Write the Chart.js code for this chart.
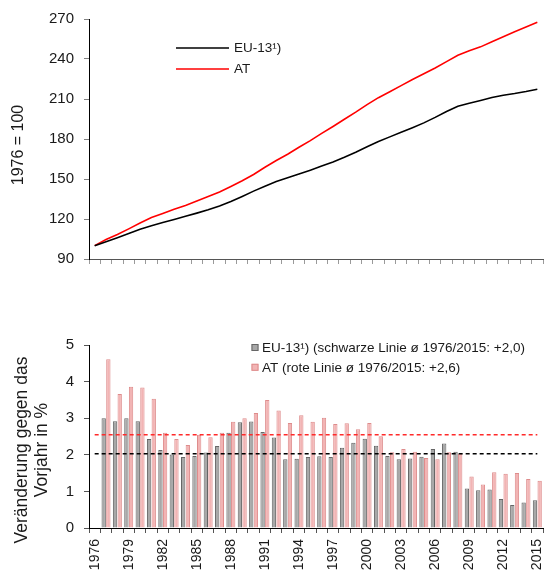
<!DOCTYPE html>
<html><head><meta charset="utf-8">
<script src="https://cdn.jsdelivr.net/npm/chart.js@4.4.1/dist/chart.umd.min.js"></script>
<style>
html,body{margin:0;padding:0;background:#fff;overflow:hidden;width:544px;height:574px;}
canvas{position:absolute;left:0;}
#c1{top:0;}
#c2{top:290px;}
</style></head><body>
<canvas id="c1" width="544" height="290"></canvas>
<canvas id="c2" width="544" height="284"></canvas>
<script>
const years = ['1976','1977','1978','1979','1980','1981','1982','1983','1984','1985','1986','1987','1988','1989','1990','1991','1992','1993','1994','1995','1996','1997','1998','1999','2000','2001','2002','2003','2004','2005','2006','2007','2008','2009','2010','2011','2012','2013','2014','2015'];
const shownYearLabels = ['1976','1979','1982','1985','1988','1991','1994','1997','2000','2003','2006','2009','2012','2015'];

const indexEU = [100,103.0,106.0,109.1,112.3,115.0,117.4,119.7,122.0,124.4,126.9,129.8,133.1,136.9,140.9,144.6,148.1,150.9,153.7,156.6,159.7,162.8,166.3,170.1,174.2,178.1,181.6,185.0,188.5,192.1,196.2,200.6,204.6,206.8,208.9,211.1,212.8,214.1,215.6,217.3];
const indexAT = [100,104.6,108.4,112.6,117.0,121.1,124.2,127.3,130.2,133.5,136.8,140.3,144.4,148.7,153.4,158.8,163.9,168.6,173.8,178.8,184.2,189.4,194.8,200.1,205.8,211.0,215.4,220.0,224.6,228.9,233.2,238.0,242.8,246.2,249.1,252.9,256.7,260.5,264.0,267.6];

const growthEU = [null,3.00,2.92,3.00,2.92,2.43,2.13,2.01,1.94,1.97,2.06,2.24,2.60,2.89,2.91,2.62,2.47,1.88,1.89,1.94,1.96,1.94,2.19,2.33,2.44,2.25,1.97,1.88,1.90,1.95,2.16,2.31,2.08,1.08,1.03,1.05,0.79,0.63,0.70,0.76];
const growthAT = [null,4.61,3.66,3.86,3.84,3.53,2.60,2.43,2.27,2.55,2.48,2.60,2.90,3.00,3.14,3.50,3.21,2.87,3.08,2.90,3.01,2.84,2.86,2.70,2.87,2.51,2.07,2.16,2.08,1.91,1.88,2.07,2.03,1.41,1.19,1.52,1.48,1.50,1.34,1.29];
const avgEU = 2.03;
const avgAT = 2.55;

const indexTicks = [90,120,150,180,210,240,270];
const growthTicks = [0,1,2,3,4,5];

const topLegendLabels = ['EU-13¹)','AT'];
const bottomLegendLabels = ['EU-13¹) (schwarze Linie ø 1976/2015: +2,0)','AT (rote Linie ø 1976/2015: +2,6)'];
const topTitle = '1976 = 100';
const bottomTitle = ['Veränderung gegen das','Vorjahr in %'];

const FONT = "'Liberation Sans', Arial, sans-serif";
const TXT = '#1a1a1a';

const overlay = {
  id: 'overlay',
  afterDraw(chart, args, o) {
    const ctx = chart.ctx;
    ctx.save();
    ctx.fillStyle = TXT;
    ctx.textAlign = 'center';
    ctx.textBaseline = 'middle';
    ctx.font = o.titleFont;
    o.titles.forEach(t => {
      ctx.save();
      ctx.translate(t.x, t.y);
      ctx.rotate(-Math.PI / 2);
      ctx.fillText(t.text, 0, 0);
      ctx.restore();
    });
    ctx.font = o.legendFont;
    ctx.textAlign = 'left';
    o.legend.forEach((it) => {
      const ds = chart.data.datasets[it.ds];
      const y = it.y;
      if (o.legendType === 'line') {
        ctx.strokeStyle = ds.borderColor;
        ctx.lineWidth = 1.5;
        ctx.beginPath();
        ctx.moveTo(o.x0, y); ctx.lineTo(o.x1, y);
        ctx.stroke();
      } else {
        ctx.fillStyle = ds.backgroundColor;
        ctx.fillRect(o.x0, y - 3.5, 7, 7);
        ctx.strokeStyle = ds.borderColor;
        ctx.lineWidth = 1;
        ctx.strokeRect(o.x0 + 0.5, y - 3, 6, 6);
      }
      ctx.fillStyle = TXT;
      ctx.fillText(it.text, o.tx, y + 0.5);
    });
    ctx.restore();
  }
};

function fixY(w) {
  return function (s) { s.width = w; s.paddingTop = 0; s.paddingBottom = 0; };
}
function fixX(h) {
  return function (s) { s.height = h; s.paddingLeft = 0; s.paddingRight = 0; };
}

new Chart(document.getElementById('c1'), {
  type: 'line',
  data: {
    labels: years,
    datasets: [
      { label: topLegendLabels[0], data: indexEU, borderColor: '#000000', borderWidth: 1.6, pointRadius: 0, tension: 0, fill: false },
      { label: topLegendLabels[1], data: indexAT, borderColor: '#ff0000', borderWidth: 1.6, pointRadius: 0, tension: 0, fill: false }
    ]
  },
  options: {
    responsive: false,
    animation: false,
    layout: { padding: { left: 0, right: 1, top: 19, bottom: 0 } },
    plugins: {
      legend: { display: false },
      tooltip: { enabled: false },
      overlay: {
        titleFont: "16px " + FONT,
        titles: [{ text: topTitle, x: 19, y: 145 }],
        legendFont: "13.5px " + FONT,
        legendType: 'line',
        x0: 176, x1: 229, tx: 234,
        legend: [{ ds: 0, text: topLegendLabels[0], y: 48 }, { ds: 1, text: topLegendLabels[1], y: 69 }]
      }
    },
    scales: {
      x: {
        type: 'category',
        offset: true,
        grid: { offset: true, drawOnChartArea: false, drawTicks: true, tickLength: 5, color: '#9a9a9a' },
        border: { display: true, color: '#555555', width: 1 },
        ticks: { display: false, autoSkip: false },
        afterFit: fixX(31)
      },
      y: {
        min: 90, max: 270,
        afterBuildTicks: (s) => { s.ticks = indexTicks.map(v => ({ value: v })); },
        grid: { drawOnChartArea: false, drawTicks: true, tickLength: 5, color: '#808080' },
        border: { display: true, color: '#000000', width: 1 },
        ticks: { font: { family: FONT, size: 15 }, color: TXT, padding: 10 },
        afterFit: fixY(89)
      }
    }
  },
  plugins: [overlay]
});

new Chart(document.getElementById('c2'), {
  type: 'bar',
  data: {
    labels: years,
    datasets: [
      { type: 'line', label: 'avgEU', data: years.map(() => avgEU), borderColor: '#000000', borderWidth: 1.5, borderDash: [4, 3], pointRadius: 0, fill: false, order: 1 },
      { type: 'line', label: 'avgAT', data: years.map(() => avgAT), borderColor: '#ff2a2a', borderWidth: 1.5, borderDash: [4, 3], pointRadius: 0, fill: false, order: 1 },
      { label: bottomLegendLabels[0], data: growthEU, backgroundColor: '#a8a8a8', borderColor: '#666666', borderWidth: 1, categoryPercentage: 0.82, barPercentage: 0.93, order: 2 },
      { label: bottomLegendLabels[1], data: growthAT, backgroundColor: '#f2b4b4', borderColor: '#de8c8c', borderWidth: 1, categoryPercentage: 0.82, barPercentage: 0.93, order: 2 }
    ]
  },
  options: {
    responsive: false,
    animation: false,
    layout: { padding: { left: 0, right: 1, top: 55, bottom: 0 } },
    plugins: {
      legend: { display: false },
      tooltip: { enabled: false },
      overlay: {
        titleFont: "17.5px " + FONT,
        titles: [{ text: bottomTitle[0], x: 22, y: 160 }, { text: bottomTitle[1], x: 41.7, y: 160 }],
        legendFont: "13.5px " + FONT,
        legendType: 'box',
        x0: 251.5, tx: 262,
        legend: [{ ds: 2, text: bottomLegendLabels[0], y: 57.5 }, { ds: 3, text: bottomLegendLabels[1], y: 77.3 }]
      }
    },
    scales: {
      x: {
        type: 'category',
        offset: true,
        grid: { offset: true, drawOnChartArea: false, drawTicks: true, tickLength: 5, color: '#555555' },
        border: { display: true, color: '#000000', width: 1 },
        ticks: {
          autoSkip: false, minRotation: 90, maxRotation: 90, padding: 6,
          font: { family: FONT, size: 14 }, color: TXT,
          callback: function (val) { const l = this.getLabelForValue(val); return shownYearLabels.includes(l) ? l : ''; }
        },
        afterFit: fixX(46)
      },
      y: {
        min: 0, max: 5,
        afterBuildTicks: (s) => { s.ticks = growthTicks.map(v => ({ value: v })); },
        grid: { drawOnChartArea: false, drawTicks: true, tickLength: 5, color: '#555555' },
        border: { display: true, color: '#000000', width: 1 },
        ticks: { font: { family: FONT, size: 15 }, color: TXT, padding: 10 },
        afterFit: fixY(89)
      }
    }
  },
  plugins: [overlay]
});
</script>
</body></html>
